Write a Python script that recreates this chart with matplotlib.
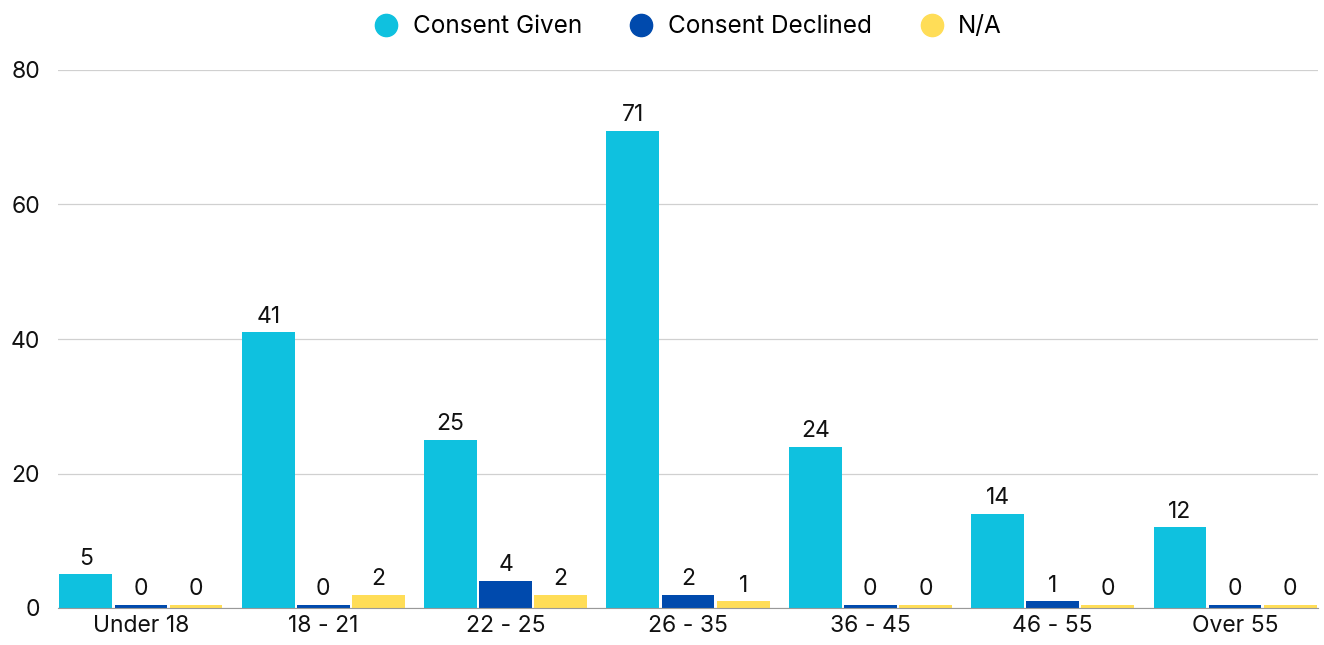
import matplotlib.pyplot as plt
import numpy as np

categorias = ["Under 18", "18 - 21", "22 - 25", "26 - 35", "36 - 45", "46 - 55", "Over 55"]
consent_given = [5, 41, 25, 71, 24, 14, 12]
consent_declined = [0, 0, 4, 2, 0, 1, 0]
nao_aplica = [0, 2, 2, 1, 0, 0, 0]

series = [
    ("Consent Given", consent_given, "#0fc1df"),
    ("Consent Declined", consent_declined, "#004aad"),
    ("N/A", nao_aplica, "#ffdd57"),
]

plt.rcParams['font.family'] = ['Inter', 'DejaVu Sans']

fig = plt.figure(figsize=(13.24, 6.45), dpi=100)
ax = fig.add_axes([58 / 1324, 37 / 645, 1260 / 1324, 538 / 645])

x = np.arange(len(categorias))
passo = 0.302
largura = 0.29
for i, (nome, valores, cor) in enumerate(series):
    pos = x + (i - 1) * passo
    # barras com valor zero aparecem como uma tira fina
    altura = [max(v, 0.45) for v in valores]
    ax.bar(pos, altura, largura, color=cor, label=nome, zorder=3)
    for px, v, h in zip(pos, valores, altura):
        ax.text(px, h + 0.7, str(v), ha="center", va="bottom", fontsize=16.5, color="#111111")

ax.set_xlim(-0.455, 6.455)
ax.set_ylim(0, 80)
ax.set_yticks([0, 20, 40, 60, 80])
ax.set_xticks(x)
ax.set_xticklabels(categorias)
ax.tick_params(axis="both", length=0, labelsize=16.5, colors="#111111")
ax.tick_params(axis="y", pad=13)
ax.tick_params(axis="x", pad=5)
ax.grid(axis="y", color="#d0d0d0", linewidth=0.9, zorder=0)
for lado in ["top", "right", "left"]:
    ax.spines[lado].set_visible(False)
ax.spines["bottom"].set_color("#999999")
ax.spines["bottom"].set_zorder(4)

handles = [plt.Line2D([], [], marker="o", linestyle="", markersize=16, color=c) for _, _, c in series]
fig.legend(handles, [s[0] for s in series], loc="upper center", bbox_to_anchor=(0.515, 1.01),
           ncol=3, frameon=False, fontsize=17.5, handletextpad=0.1, columnspacing=1.45)

fig.savefig("out.png", dpi=100)
